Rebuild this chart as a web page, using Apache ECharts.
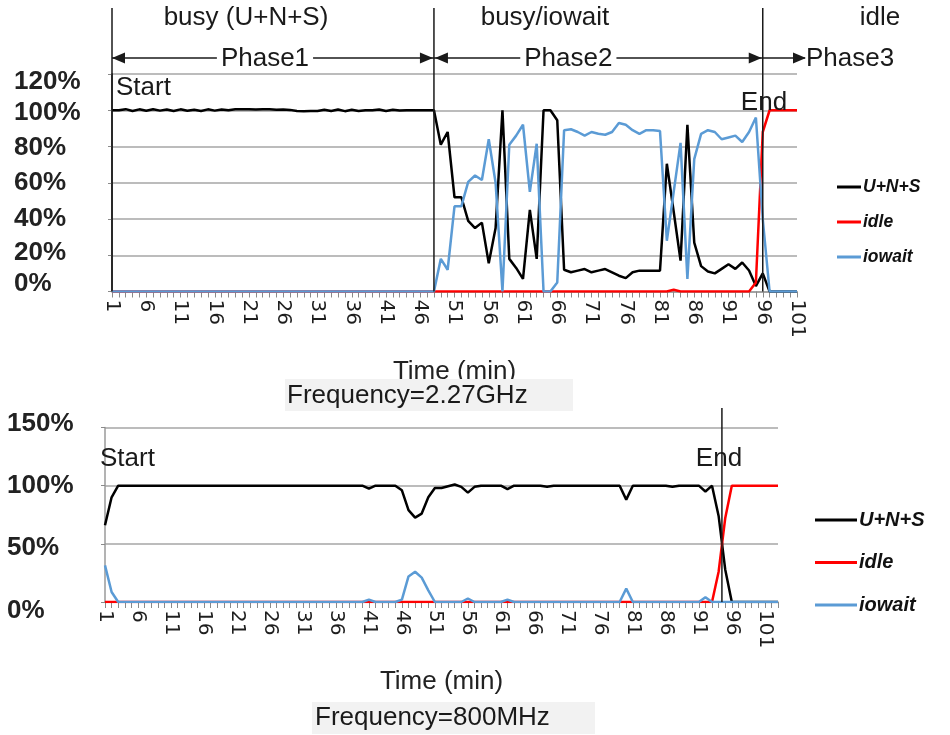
<!DOCTYPE html>
<html>
<head>
<meta charset="utf-8">
<script src="https://cdn.jsdelivr.net/npm/echarts@6.0.0/dist/echarts.min.js"></script>
<style>
  html, body { margin: 0; padding: 0; background: #ffffff; }
  #chart { width: 950px; height: 735px; }
</style>
</head>
<body>
<div id="chart"></div>
<script>
// ---- minutes on the time axes ----
const minutesTop = [];
for (let m = 1; m <= 101; m++) minutesTop.push(String(m));
const minutesBottom = [];
for (let m = 1; m <= 103; m++) minutesBottom.push(String(m));

// ---- CPU state shares at 2.27 GHz (%) ----
const busyTop = [
  100, 100, 100.6, 99.6, 100.5, 99.7, 100.6, 99.8, 100.4, 99.6,
  100.5, 99.7, 100.3, 99.6, 100.5, 99.8, 100.4, 100, 100.5, 100.6,
  100.5, 100.4, 100.6, 100.5, 100.3, 100.4, 100.2, 99.6, 99.5, 99.6,
  99.6, 100.3, 99.6, 100.4, 99.5, 100.3, 99.6, 100, 100, 100.4,
  99.6, 100.3, 99.8, 100, 100, 100, 100, 100,
  81, 88, 52, 52, 39, 35, 38, 15.6, 35, 100,
  18, 13, 7, 45, 18, 100, 100, 94.5, 12, 10.6,
  11.5, 12.4, 10.6, 11.5, 12.4, 10.6, 8.7, 7.4, 10.6, 11.5,
  11.5, 11.5, 11.5, 70.5, 44, 17, 92, 27, 14, 11,
  10, 12.5, 15, 12.5, 16, 11.6, 3, 10, 0, 0,
  0, 0, 0
];
const idleTop = [
  0, 0, 0, 0, 0, 0, 0, 0, 0, 0,
  0, 0, 0, 0, 0, 0, 0, 0, 0, 0,
  0, 0, 0, 0, 0, 0, 0, 0, 0, 0,
  0, 0, 0, 0, 0, 0, 0, 0, 0, 0,
  0, 0, 0, 0, 0, 0, 0, 0, 0, 0,
  0, 0, 0, 0, 0, 0, 0, 0, 0, 0,
  0, 0, 0, 0, 0, 0, 0, 0, 0, 0,
  0, 0, 0, 0, 0, 0, 0, 0, 0, 0,
  0, 0, 1, 0, 0, 0, 0, 0, 0, 0,
  0, 0, 0, 0, 5, 88, 100, 100, 100, 100,
  100
];
const iowaitTop = [
  0, 0, 0, 0, 0, 0, 0, 0, 0, 0,
  0, 0, 0, 0, 0, 0, 0, 0, 0, 0,
  0, 0, 0, 0, 0, 0, 0, 0, 0, 0,
  0, 0, 0, 0, 0, 0, 0, 0, 0, 0,
  0, 0, 0, 0, 0, 0, 0, 0,
  18, 12, 47, 47, 60.5, 64, 61.5, 84, 60, 0,
  81, 86, 92, 55, 81.5, 0, 0, 5, 89, 89.5,
  88, 86, 88, 87, 86.5, 88, 93, 92, 89, 87,
  89, 89, 88.5, 28, 55, 82, 7, 73, 87, 89,
  88, 84, 85, 86, 82.5, 88, 96, 40, 0, 0,
  0, 0, 0
];

// ---- CPU state shares at 800 MHz (%) ----
const busyBottom = [
  66, 90, 100, 100, 100, 100, 100, 100, 100, 100,
  100, 100, 100, 100, 100, 100, 100, 100, 100, 100,
  100, 100, 100, 100, 100, 100, 100, 100, 100, 100,
  100, 100, 100, 100, 100, 100, 100, 100, 100, 100,
  97.5, 100, 100, 100, 100, 96, 79, 72.5, 76, 90,
  98, 98, 99.5, 101, 99, 94, 99, 100, 100, 100,
  100, 97, 100, 100, 100, 100, 100, 99, 100, 100,
  100, 100, 100, 100, 100, 100, 100, 100, 100, 88,
  100, 100, 100, 100, 100, 100, 99, 100, 100, 100,
  100, 95, 100, 74, 28, 0, 0, 0, 0, 0,
  0, 0, 0
];
const idleBottom = [
  0, 0, 0, 0, 0, 0, 0, 0, 0, 0,
  0, 0, 0, 0, 0, 0, 0, 0, 0, 0,
  0, 0, 0, 0, 0, 0, 0, 0, 0, 0,
  0, 0, 0, 0, 0, 0, 0, 0, 0, 0,
  0, 0, 0, 0, 0, 0, 0, 0, 0, 0,
  0, 0, 0, 0, 0, 0, 0, 0, 0, 0,
  0, 0, 0, 0, 0, 0, 0, 0, 0, 0,
  0, 0, 0, 0, 0, 0, 0, 0, 0, 0,
  0, 0, 0, 0, 0, 0, 0, 0, 0, 0,
  0, 0, 0, 26, 72, 100, 100, 100, 100, 100,
  100, 100, 100
];
const iowaitBottom = [
  31.5, 8.6, 0, 0, 0, 0, 0, 0, 0, 0,
  0, 0, 0, 0, 0, 0, 0, 0, 0, 0,
  0, 0, 0, 0, 0, 0, 0, 0, 0, 0,
  0, 0, 0, 0, 0, 0, 0, 0, 0, 0,
  2, 0, 0, 0, 0, 2, 22, 26, 21, 10,
  0, 0, 0, 0, 0, 3, 0, 0, 0, 0,
  0, 2, 0, 0, 0, 0, 0, 0, 0, 0,
  0, 0, 0, 0, 0, 0, 0, 0, 0, 11.5,
  0, 0, 0, 0, 0, 0, 0, 0, 0, 0,
  0, 4, 0, 0, 0, 0, 0, 0, 0, 0,
  0, 0, 0
];

// ---- annotation positions (minutes) ----
const phaseBoundsTop = ['48', '96'];   // Phase1 -> Phase2, Phase2 -> Phase3 (End)
const endBottom = 94.5;                // End at 800 MHz

const seriesNames = ['U+N+S', 'idle', 'iowait'];
const seriesColors = ['#000000', '#ff0000', '#5b9bd5'];

const FONT = '"Liberation Sans", Arial, sans-serif';

const chart = echarts.init(document.getElementById('chart'), null, { renderer: 'canvas' });

function xAxisCfg(gridIndex, data) {
  return {
    type: 'category', gridIndex: gridIndex, data: data, boundaryGap: false,
    axisLine: { show: true, lineStyle: { color: '#9a9a9a', width: 1.5 } },
    axisTick: { show: true, interval: 0, length: 6, lineStyle: { color: '#8a8a8a', width: 1 } },
    axisLabel: {
      interval: 4, rotate: -90, margin: 8,
      fontFamily: '"DejaVu Sans", sans-serif', fontSize: 20, color: '#1e1e1e'
    },
    name: 'Time (min)', nameLocation: 'middle', nameGap: 67,
    nameTextStyle: { fontFamily: FONT, fontSize: 26, color: '#222' }
  };
}

// tick labels sit in a slightly tighter column than the grid lines
function yLabelRich(offsets) {
  const rich = {};
  Object.keys(offsets).forEach(function (k) {
    const d = offsets[k];
    rich['v' + k] = {
      fontFamily: FONT, fontSize: 26, fontWeight: 'bold', color: '#222',
      padding: d >= 0 ? [2 * d, 0, 0, 0] : [0, 0, -2 * d, 0]
    };
  });
  return rich;
}

function yAxisCfg(gridIndex, max, interval, axisColor, offsets) {
  return {
    type: 'value', gridIndex: gridIndex, min: 0, max: max, interval: interval,
    axisLine: { show: true, lineStyle: { color: axisColor, width: 1.5 } },
    axisTick: { show: true, length: 4, lineStyle: { color: '#8a8a8a' } },
    splitLine: { show: true, lineStyle: { color: '#a6a6a6', width: 1.5 } },
    axisLabel: {
      formatter: function (v) { return '{v' + v + '|' + v + '%}'; },
      align: 'left', margin: 98,
      rich: yLabelRich(offsets)
    }
  };
}

function lineSeries(i, axisIndex, data) {
  return {
    name: seriesNames[i], type: 'line', xAxisIndex: axisIndex, yAxisIndex: axisIndex,
    data: data, symbol: 'none', smooth: false,
    lineStyle: { color: seriesColors[i], width: 2.5 },
    itemStyle: { color: seriesColors[i] },
    z: 2 + i
  };
}

function legendCfg(left, top, itemWidth, itemGap, size) {
  return {
    orient: 'vertical', left: left, top: top, data: seriesNames,
    icon: 'rect', itemWidth: itemWidth, itemHeight: 3, itemGap: itemGap,
    selectedMode: false,
    textStyle: {
      fontFamily: FONT, fontSize: size, fontStyle: 'italic', fontWeight: 'bold',
      color: '#111', lineHeight: 20, padding: [0, 0, 0, -3]
    }
  };
}

chart.setOption({
  animation: false,
  backgroundColor: '#ffffff',
  grid: [
    { left: 112, top: 74, width: 685, height: 217.5 },
    { left: 105, top: 427.5, width: 673, height: 174.5 }
  ],
  xAxis: [xAxisCfg(0, minutesTop), xAxisCfg(1, minutesBottom)],
  yAxis: [
    yAxisCfg(0, 120, 20, '#222222', { 0: -7.5, 20: -2, 40: 0, 60: 0, 80: 1, 100: 2.5, 120: 8 }),
    yAxisCfg(1, 150, 50, '#9a9a9a', { 0: 9, 50: 4, 100: 0, 150: -4 })
  ],
  legend: [
    legendCfg(832, 172, 24, 15, 17.5),
    legendCfg(810, 505, 42, 22.5, 20)
  ],
  series: [
    lineSeries(0, 0, busyTop), lineSeries(1, 0, idleTop), lineSeries(2, 0, iowaitTop),
    lineSeries(0, 1, busyBottom), lineSeries(1, 1, idleBottom), lineSeries(2, 1, iowaitBottom)
  ]
});

// ---- annotations: phase markers, titles, frequency captions ----
function xPix(axis, cat) {
  return chart.convertToPixel({ xAxisIndex: axis }, cat);
}
function xPixFrac(axis, v) {
  const lo = Math.floor(v), hi = Math.ceil(v);
  const a = xPix(axis, lo - 1), b = xPix(axis, hi - 1);
  return a + (b - a) * (v - lo);
}

const topBottomY = chart.convertToPixel({ yAxisIndex: 0 }, 0);
const botBottomY = chart.convertToPixel({ yAxisIndex: 1 }, 0);
const xStart = xPix(0, '1');
const xP2 = xPix(0, phaseBoundsTop[0]);
const xEnd = xPix(0, phaseBoundsTop[1]);
const xEndB = xPixFrac(1, endBottom);
const arrowY = 58;
const ink = '#1a1a1a';

function vline(x, y1, y2) {
  return { type: 'line', shape: { x1: x, y1: y1, x2: x, y2: y2 }, style: { stroke: ink, lineWidth: 1.5 }, z: 50 };
}
function arrowHead(tipX, y, dir) {
  const L = 13, H = 5.5;
  return {
    type: 'polygon',
    shape: { points: [[tipX, y], [tipX - dir * L, y - H], [tipX - dir * L, y + H]] },
    style: { fill: ink }, z: 51
  };
}
function label(text, x, y, align, extra) {
  return {
    type: 'text', x: x, y: y, z: 60,
    style: Object.assign({
      text: text, fontFamily: FONT, fontSize: 26, fill: '#1a1a1a',
      textAlign: align, textVerticalAlign: 'middle'
    }, extra || {})
  };
}

const graphics = [
  vline(xStart, 8, topBottomY),
  vline(xP2, 8, topBottomY),
  vline(xEnd, 8, topBottomY),
  vline(xEndB, 408, botBottomY),
  { type: 'line', shape: { x1: xStart, y1: arrowY, x2: 805, y2: arrowY }, style: { stroke: ink, lineWidth: 1.5 }, z: 50 },
  arrowHead(xStart, arrowY, -1),
  arrowHead(xP2 - 1, arrowY, 1),
  arrowHead(xP2 + 1, arrowY, -1),
  arrowHead(xEnd - 1, arrowY, 1),
  arrowHead(806, arrowY, 1),
  label('Phase1', (xStart + xP2) / 2 - 8, arrowY + 1, 'center', { backgroundColor: '#ffffff', padding: [0, 4] }),
  label('Phase2', (xP2 + xEnd) / 2 - 30, arrowY + 1, 'center', { backgroundColor: '#ffffff', padding: [0, 4] }),
  label('Phase3', 806, arrowY + 1, 'left'),
  label('busy (U+N+S)', 246, 18, 'center'),
  label('busy/iowait', 545, 18, 'center'),
  label('idle', 880, 18, 'center'),
  label('Start', xStart + 4, 88, 'left'),
  label('End', 764, 103, 'center'),
  label('Start', 100, 459, 'left'),
  label('End', 719, 459, 'center'),
  { type: 'rect', shape: { x: 285, y: 379, width: 288, height: 32 }, style: { fill: '#f2f2f2' }, z: 55 },
  label('Frequency=2.27GHz', 287, 396, 'left'),
  { type: 'rect', shape: { x: 312, y: 702, width: 283, height: 32 }, style: { fill: '#f2f2f2' }, z: 55 },
  label('Frequency=800MHz', 315, 718, 'left')
];

chart.setOption({ graphic: graphics });
</script>
</body>
</html>
